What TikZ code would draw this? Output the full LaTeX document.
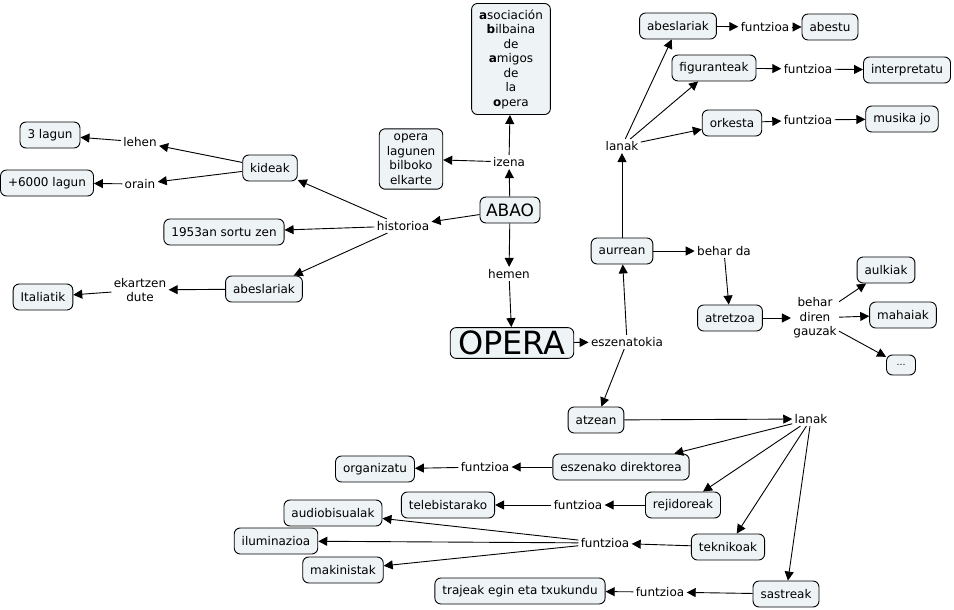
\documentclass[tikz,border=0pt]{standalone}
\usepackage{fontspec}
\setmainfont{DejaVu Sans}
\usetikzlibrary{arrows.meta}
\definecolor{cbox}{RGB}{238,243,246}
\begin{document}
\begin{tikzpicture}
    [x=1pt,y=-1pt
    ,every node/.style={font=\fontsize{12}{14.5}\selectfont}
    ,concept/.style={draw,rounded corners=6pt,fill=cbox,inner xsep=7.5pt,minimum height=26pt,align=center}
    ,link/.style={inner sep=2pt,align=center}
    ,line width=0.9pt
    ,>={Triangle[length=9pt,width=9pt]}
    ]

    \useasboundingbox (0,0) rectangle (954,610);

    % ABAO
    \node[concept,font=\fontsize{17}{19}\selectfont,inner xsep=6pt] (abao) at (510,210) {ABAO};
    \node[link] (izena) at (509,162) {izena};
    \node[concept,inner ysep=6pt] (asoc) at (511,59) {\textbf{a}sociación\\\textbf{b}ilbaina\\de\\\textbf{a}migos\\de\\la\\\textbf{o}pera};
    \node[concept,inner ysep=5pt] (lagun) at (411,159) {opera\\lagunen\\bilboko\\elkarte};

    % historioa
    \node[link] (hist) at (403,226) {historioa};
    \node[concept] (kide) at (270,168) {kideak};
    \node[concept] (sortu) at (224,232) {1953an sortu zen};
    \node[concept] (abesl) at (264,289) {abeslariak};
    \node[link] (lehen) at (140,142) {lehen};
    \node[link] (orain) at (140,184) {orain};
    \node[concept] (hiru) at (50,135) {3 lagun};
    \node[concept] (seimila) at (47,183) {+6000 lagun};
    \node[link] (ekar) at (140,290) {ekartzen\\dute};
    \node[concept] (ital) at (43,297) {Italiatik};

    % OPERA
    \node[link] (hemen) at (509,274) {hemen};
    \node[concept,font=\fontsize{32}{36}\selectfont,inner xsep=8pt] (opera) at (512,343) {OPERA};
    \node[link] (esz) at (627,342) {eszenatokia};

    % aurrean
    \node[concept] (aurr) at (622,251) {aurrean};
    \node[link] (lanak1) at (622,146) {lanak};
    \node[concept] (abesl2) at (678,26) {abeslariak};
    \node[link] (funt1) at (765,27) {funtzioa};
    \node[concept] (abestu) at (830,27) {abestu};
    \node[concept] (figur) at (714,68) {figuranteak};
    \node[link] (funt2) at (808,69) {funtzioa};
    \node[concept] (interp) at (907,70) {interpretatu};
    \node[concept] (orkesta) at (732,123) {orkesta};
    \node[link] (funt3) at (808,120) {funtzioa};
    \node[concept] (musika) at (902,119) {musika jo};
    \node[link] (behar) at (724,251) {behar da};
    \node[concept] (atretz) at (730,318) {atretzoa};
    \node[link] (gauzak) at (815,318) {behar\\diren\\gauzak};
    \node[concept] (aulki) at (886,270) {aulkiak};
    \node[concept] (mahai) at (903,315) {mahaiak};
    \node[concept,minimum height=20pt,minimum width=29pt,inner xsep=5pt,font=\fontsize{9}{11}\selectfont] (etab) at (901,365) {\dots};

    % atzean
    \node[concept] (atze) at (596,420) {atzean};
    \node[link] (lanak2) at (811,419) {lanak};
    \node[concept] (zuzen) at (621,467) {eszenako direktorea};
    \node[link] (funt4) at (485,467) {funtzioa};
    \node[concept] (organ) at (375,469) {organizatu};
    \node[concept] (rejid) at (683,505) {rejidoreak};
    \node[link] (funt5) at (578,505) {funtzioa};
    \node[concept] (teleb) at (448,505) {telebistarako};
    \node[concept] (tekni) at (728,547) {teknikoak};
    \node[link] (funt6) at (605,543) {funtzioa};
    \node[concept] (audio) at (333,513) {audiobisualak};
    \node[concept] (ilumi) at (276,541) {iluminazioa};
    \node[concept] (makin) at (343,570) {makinistak};
    \node[concept] (sastr) at (786,594) {sastreak};
    \node[link] (funt7) at (660,592) {funtzioa};
    \node[concept] (trajea) at (520,591) {trajeak egin eta txukundu};

    \draw [->] (abao) -- (izena);
    \draw [->] (izena) -- (asoc);
    \draw [->] (izena) -- (lagun);
    \draw [->] (abao) -- (hist);
    \draw [->] (hist) -- (kide);
    \draw [->] (hist) -- (sortu);
    \draw [->] (hist) -- (abesl);
    \draw [->] (kide) -- (lehen);
    \draw [->] (lehen) -- (hiru);
    \draw [->] (kide) -- (orain);
    \draw [->] (orain) -- (seimila);
    \draw [->] (abesl) -- (ekar);
    \draw [->] (ekar) -- (ital);
    \draw [->] (abao) -- (hemen);
    \draw [->] (hemen) -- (opera);
    \draw [->] (opera) -- (esz);
    \draw [->] (esz) -- (aurr);
    \draw [->] (esz) -- (atze);

    \draw [->] (aurr) -- (lanak1);
    \draw [->] (lanak1) -- (abesl2);
    \draw [->] (lanak1) -- (figur);
    \draw [->] (lanak1) -- (orkesta);
    \draw [->] (abesl2) -- (funt1);
    \draw [->] (funt1) -- (abestu);
    \draw [->] (figur) -- (funt2);
    \draw [->] (funt2) -- (interp);
    \draw [->] (orkesta) -- (funt3);
    \draw [->] (funt3) -- (musika);
    \draw [->] (aurr) -- (behar);
    \draw [->] (behar) -- (atretz);
    \draw [->] (atretz) -- (gauzak);
    \draw [->] (gauzak) -- (aulki);
    \draw [->] (gauzak) -- (mahai);
    \draw [->] (gauzak) -- (etab);

    \draw [->] (atze) -- (lanak2);
    \draw [->] (lanak2) -- (zuzen);
    \draw [->] (lanak2) -- (rejid);
    \draw [->] (lanak2) -- (tekni);
    \draw [->] (lanak2) -- (sastr);
    \draw [->] (zuzen) -- (funt4);
    \draw [->] (funt4) -- (organ);
    \draw [->] (rejid) -- (funt5);
    \draw [->] (funt5) -- (teleb);
    \draw [->] (tekni) -- (funt6);
    \draw [->] (funt6) -- (audio);
    \draw [->] (funt6) -- (ilumi);
    \draw [->] (funt6) -- (makin);
    \draw [->] (sastr) -- (funt7);
    \draw [->] (funt7) -- (trajea);

  \end{tikzpicture}
\end{document}
